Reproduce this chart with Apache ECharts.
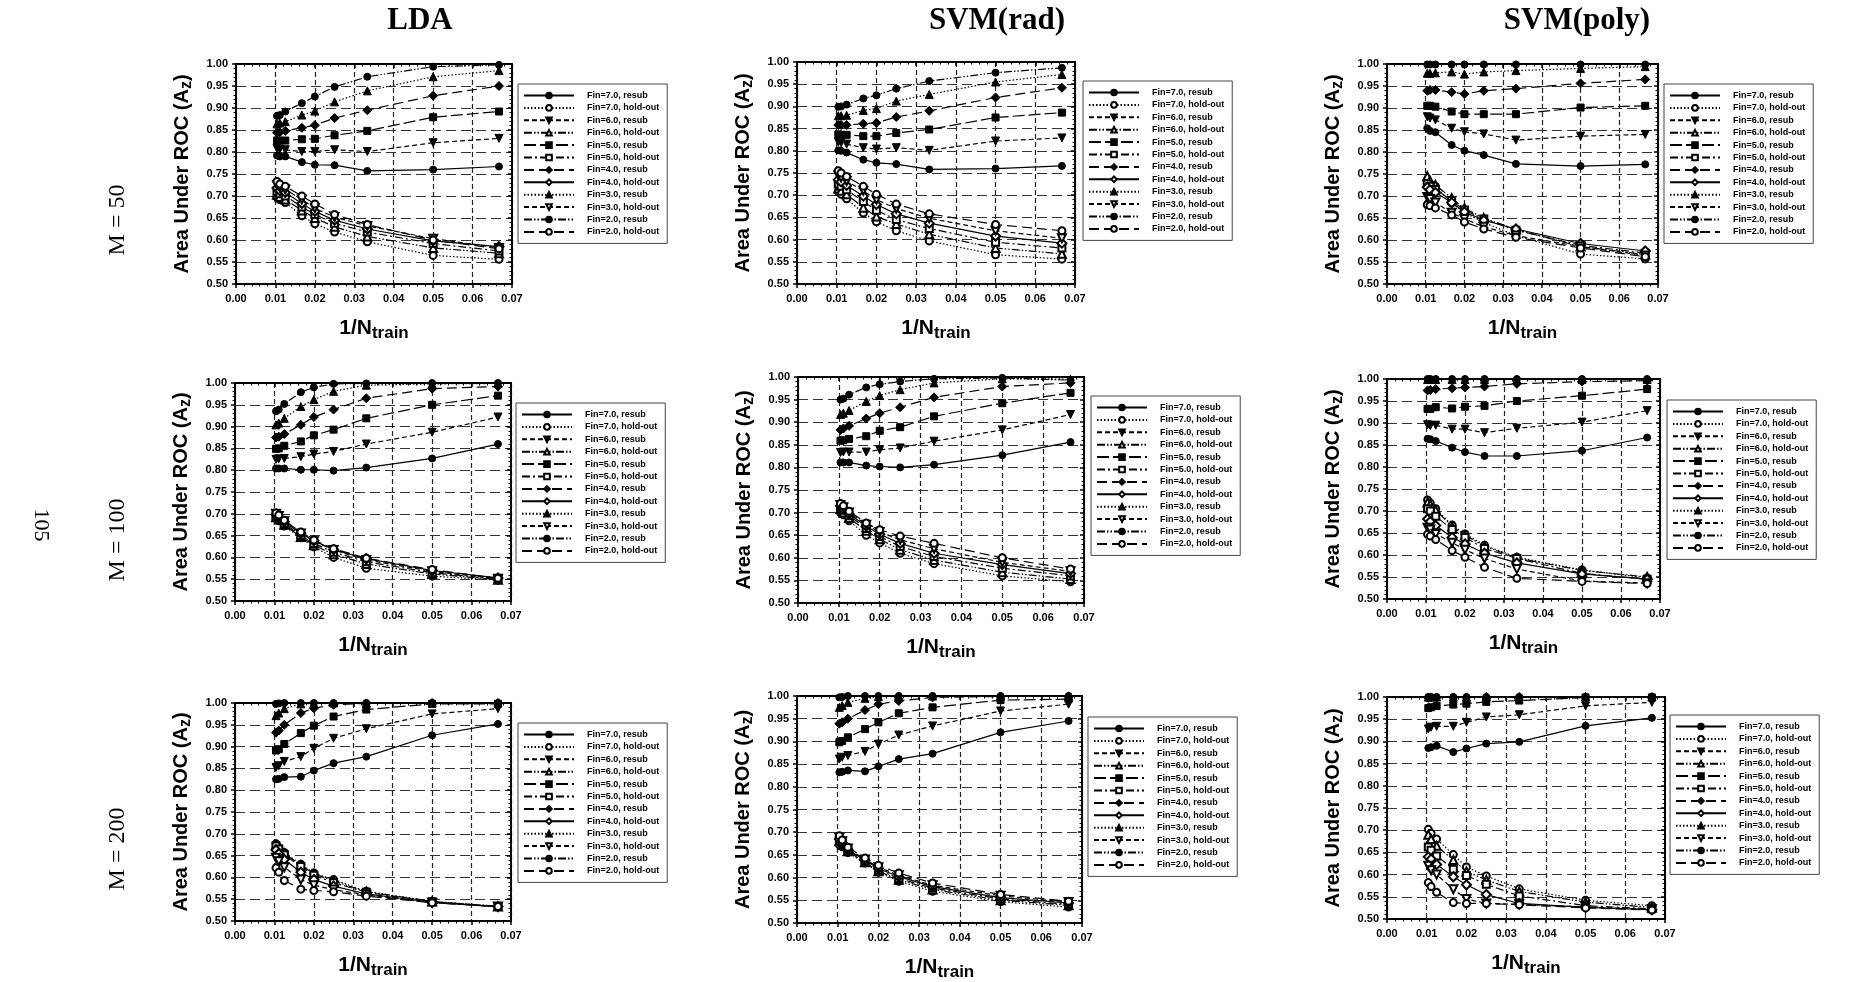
<!DOCTYPE html>
<html><head><meta charset="utf-8">
<script src="https://cdn.jsdelivr.net/npm/echarts@6/dist/echarts.min.js"></script>
<style>html,body{margin:0;padding:0;background:#fff}#c{width:1849px;height:982px}</style>
</head><body><div id="c"></div>
<script>
// ---------- DATA ----------
const xValues = [0.0104, 0.0111, 0.0125, 0.0167, 0.0200, 0.0250, 0.0333, 0.0500, 0.0667];
const finLevels = ['7.0', '6.0', '5.0', '4.0', '3.0', '2.0'];
const columnTitles = ['LDA', 'SVM(rad)', 'SVM(poly)'];
const rowTitles = ['M = 50', 'M = 100', 'M = 200'];
const pageNumber = '105';

// rows: Fin=7.0, 6.0, 5.0, 4.0, 3.0, 2.0
const lda50Resub = [
  [0.792,0.790,0.790,0.777,0.771,0.770,0.757,0.760,0.767],
  [0.808,0.806,0.805,0.801,0.801,0.805,0.801,0.821,0.831],
  [0.826,0.826,0.826,0.829,0.830,0.838,0.848,0.879,0.892],
  [0.844,0.845,0.848,0.855,0.861,0.877,0.895,0.928,0.950],
  [0.864,0.866,0.869,0.884,0.893,0.914,0.939,0.971,0.985],
  [0.882,0.884,0.892,0.911,0.926,0.948,0.971,0.994,0.998]];
const lda50Hold = [
  [0.697,0.692,0.685,0.655,0.637,0.618,0.596,0.565,0.556],
  [0.703,0.698,0.692,0.667,0.650,0.630,0.608,0.582,0.570],
  [0.710,0.705,0.700,0.675,0.658,0.638,0.618,0.592,0.575],
  [0.718,0.712,0.708,0.683,0.665,0.645,0.625,0.598,0.585],
  [0.725,0.720,0.715,0.692,0.672,0.652,0.632,0.603,0.582],
  [0.733,0.727,0.722,0.700,0.682,0.658,0.635,0.600,0.580]];

const rad50Resub = [
  [0.801,0.800,0.796,0.780,0.773,0.770,0.758,0.760,0.766],
  [0.820,0.818,0.815,0.807,0.804,0.807,0.801,0.822,0.829],
  [0.837,0.836,0.836,0.833,0.833,0.840,0.848,0.875,0.886],
  [0.858,0.858,0.858,0.861,0.863,0.876,0.890,0.920,0.942],
  [0.879,0.879,0.880,0.891,0.895,0.912,0.927,0.955,0.972],
  [0.899,0.900,0.904,0.918,0.925,0.940,0.957,0.976,0.987]];
const rad50Hold = [
  [0.708,0.702,0.692,0.660,0.640,0.620,0.597,0.566,0.556],
  [0.715,0.710,0.702,0.672,0.652,0.635,0.612,0.581,0.568],
  [0.725,0.720,0.712,0.686,0.666,0.645,0.625,0.594,0.581],
  [0.735,0.730,0.722,0.698,0.679,0.658,0.637,0.608,0.592],
  [0.745,0.740,0.732,0.710,0.690,0.670,0.648,0.620,0.603],
  [0.755,0.750,0.742,0.720,0.702,0.680,0.658,0.634,0.620]];

const poly50Resub = [
  [0.854,0.848,0.845,0.816,0.803,0.793,0.773,0.768,0.772],
  [0.880,0.877,0.873,0.854,0.846,0.841,0.827,0.836,0.840],
  [0.905,0.905,0.903,0.892,0.886,0.886,0.886,0.901,0.905],
  [0.939,0.941,0.941,0.936,0.932,0.939,0.944,0.956,0.965],
  [0.979,0.979,0.980,0.982,0.977,0.982,0.985,0.990,0.994],
  [0.999,0.999,0.999,0.999,0.999,0.999,0.999,0.999,0.999]];
const poly50Hold = [
  [0.735,0.728,0.722,0.684,0.662,0.640,0.610,0.568,0.557],
  [0.745,0.735,0.725,0.695,0.672,0.650,0.624,0.585,0.567],
  [0.728,0.722,0.715,0.690,0.668,0.648,0.622,0.588,0.570],
  [0.720,0.714,0.708,0.685,0.664,0.645,0.625,0.592,0.575],
  [0.698,0.693,0.685,0.662,0.648,0.630,0.610,0.585,0.565],
  [0.680,0.678,0.673,0.657,0.641,0.625,0.606,0.582,0.562]];

const lda100Resub = [
  [0.804,0.804,0.804,0.801,0.801,0.799,0.806,0.827,0.860],
  [0.825,0.826,0.827,0.831,0.837,0.843,0.860,0.887,0.922],
  [0.849,0.850,0.856,0.866,0.880,0.893,0.919,0.950,0.971],
  [0.875,0.877,0.883,0.904,0.922,0.939,0.965,0.987,0.992],
  [0.904,0.908,0.919,0.946,0.962,0.981,0.995,0.998,0.999],
  [0.935,0.939,0.952,0.979,0.990,0.998,0.999,1.000,1.000]];
const lda100Hold = [
  [0.690,0.684,0.672,0.645,0.624,0.600,0.575,0.557,0.548],
  [0.692,0.687,0.675,0.647,0.628,0.607,0.585,0.562,0.549],
  [0.695,0.690,0.678,0.650,0.632,0.612,0.590,0.565,0.550],
  [0.698,0.692,0.682,0.655,0.638,0.618,0.597,0.570,0.553],
  [0.700,0.695,0.683,0.655,0.637,0.617,0.594,0.568,0.551],
  [0.702,0.697,0.685,0.658,0.640,0.620,0.598,0.572,0.552]];

const rad100Resub = [
  [0.811,0.811,0.811,0.804,0.802,0.800,0.806,0.827,0.856],
  [0.833,0.834,0.834,0.834,0.839,0.843,0.858,0.883,0.917],
  [0.859,0.860,0.863,0.869,0.881,0.889,0.913,0.942,0.965],
  [0.883,0.886,0.892,0.908,0.920,0.933,0.955,0.979,0.987],
  [0.917,0.920,0.926,0.946,0.959,0.972,0.987,0.996,0.995],
  [0.950,0.952,0.961,0.977,0.984,0.990,0.996,0.998,0.993]];
const rad100Hold = [
  [0.700,0.695,0.682,0.650,0.633,0.610,0.587,0.560,0.547],
  [0.708,0.700,0.688,0.660,0.641,0.618,0.595,0.568,0.553],
  [0.712,0.705,0.693,0.665,0.647,0.625,0.603,0.577,0.560],
  [0.715,0.708,0.697,0.670,0.652,0.632,0.610,0.585,0.565],
  [0.717,0.712,0.700,0.673,0.657,0.640,0.620,0.590,0.570],
  [0.720,0.715,0.703,0.677,0.662,0.648,0.632,0.600,0.575]];

const poly100Resub = [
  [0.864,0.863,0.859,0.844,0.834,0.825,0.825,0.837,0.867],
  [0.896,0.894,0.895,0.886,0.886,0.878,0.888,0.902,0.928],
  [0.932,0.932,0.936,0.933,0.937,0.939,0.950,0.962,0.977],
  [0.974,0.975,0.977,0.979,0.981,0.983,0.989,0.994,0.996],
  [0.999,0.999,0.999,0.999,0.999,0.999,0.999,0.999,0.999],
  [1.000,1.000,1.000,1.000,1.000,1.000,1.000,1.000,1.000]];
const poly100Hold = [
  [0.725,0.718,0.705,0.668,0.648,0.622,0.595,0.566,0.548],
  [0.720,0.715,0.702,0.665,0.645,0.620,0.593,0.565,0.550],
  [0.705,0.700,0.688,0.658,0.640,0.615,0.592,0.558,0.545],
  [0.682,0.676,0.667,0.640,0.625,0.604,0.582,0.557,0.545],
  [0.662,0.658,0.648,0.628,0.612,0.592,0.568,0.541,0.536],
  [0.647,0.643,0.635,0.610,0.595,0.572,0.547,0.540,0.535]];

const lda200Resub = [
  [0.825,0.826,0.830,0.831,0.845,0.862,0.877,0.926,0.952],
  [0.852,0.856,0.866,0.877,0.896,0.919,0.941,0.975,0.987],
  [0.891,0.894,0.906,0.931,0.948,0.969,0.985,0.998,0.998],
  [0.932,0.937,0.950,0.977,0.988,0.996,0.999,1.000,1.000],
  [0.971,0.977,0.987,0.998,0.999,1.000,1.000,1.000,1.000],
  [0.998,0.999,1.000,1.000,1.000,1.000,1.000,1.000,1.000]];
const lda200Hold = [
  [0.677,0.668,0.657,0.630,0.610,0.595,0.568,0.545,0.534],
  [0.675,0.667,0.655,0.628,0.608,0.592,0.567,0.545,0.533],
  [0.672,0.665,0.652,0.625,0.605,0.588,0.566,0.544,0.533],
  [0.663,0.655,0.641,0.612,0.595,0.580,0.562,0.543,0.533],
  [0.645,0.637,0.623,0.595,0.582,0.572,0.560,0.542,0.533],
  [0.622,0.612,0.593,0.573,0.570,0.567,0.557,0.542,0.533]];

const rad200Resub = [
  [0.832,0.833,0.836,0.834,0.845,0.861,0.873,0.920,0.945],
  [0.861,0.865,0.869,0.878,0.894,0.914,0.934,0.967,0.982],
  [0.898,0.901,0.909,0.927,0.942,0.962,0.975,0.991,0.993],
  [0.939,0.942,0.950,0.969,0.982,0.989,0.997,0.999,0.999],
  [0.975,0.979,0.986,0.995,0.999,1.000,1.000,1.000,1.000],
  [0.997,0.998,1.000,1.000,1.000,1.000,1.000,1.000,1.000]];
const rad200Hold = [
  [0.673,0.668,0.655,0.632,0.612,0.592,0.570,0.547,0.535],
  [0.680,0.672,0.658,0.634,0.614,0.595,0.574,0.550,0.539],
  [0.683,0.675,0.660,0.636,0.617,0.598,0.577,0.553,0.541],
  [0.685,0.677,0.662,0.638,0.620,0.602,0.580,0.556,0.544],
  [0.688,0.680,0.664,0.640,0.623,0.605,0.583,0.560,0.546],
  [0.692,0.683,0.667,0.643,0.627,0.610,0.588,0.563,0.548]];

const poly200Resub = [
  [0.885,0.887,0.890,0.876,0.884,0.895,0.899,0.935,0.953],
  [0.928,0.932,0.934,0.934,0.943,0.955,0.960,0.980,0.988],
  [0.975,0.977,0.980,0.983,0.985,0.989,0.992,0.999,0.999],
  [0.998,0.999,0.999,0.999,0.999,1.000,1.000,1.000,1.000],
  [1.000,1.000,1.000,1.000,1.000,1.000,1.000,1.000,1.000],
  [1.000,1.000,1.000,1.000,1.000,1.000,1.000,1.000,1.000]];
const poly200Hold = [
  [0.702,0.693,0.680,0.645,0.617,0.597,0.568,0.542,0.530],
  [0.690,0.680,0.665,0.633,0.607,0.588,0.562,0.538,0.526],
  [0.662,0.655,0.642,0.612,0.598,0.578,0.552,0.530,0.523],
  [0.640,0.635,0.623,0.595,0.577,0.555,0.535,0.526,0.521],
  [0.620,0.610,0.600,0.567,0.545,0.535,0.533,0.527,0.522],
  [0.582,0.573,0.560,0.537,0.535,0.535,0.532,0.525,0.520]];

// ---------- LAYOUT / STYLE ----------
const panels = [
  [lda50Resub, lda50Hold], [rad50Resub, rad50Hold], [poly50Resub, poly50Hold],
  [lda100Resub, lda100Hold], [rad100Resub, rad100Hold], [poly100Resub, poly100Hold],
  [lda200Resub, lda200Hold], [rad200Resub, rad200Hold], [poly200Resub, poly200Hold]];
const gridBoxes = [[236,64,276,220],[797,62,278,222],[1387,64,271,220],
                   [235,383,276,218],[798,377,286,226],[1387,379,273,220],
                   [235,703,276,218],[797,696,285,228],[1387,697,278,222]];
const legendPos = [[518,84],[1083,81],[1664,84],[516,403],[1091,396],[1667,400],[518,723],[1088,717],[1670,715]];

const DDOT = [8,2,1.5,2,1.5,2];
const resubStyle = [
  {symbol:'circle', size:7, rot:0, dash:'solid'},
  {symbol:'triangle', size:8, rot:180, dash:[5,3]},
  {symbol:'rect', size:7, rot:0, dash:[12,4]},
  {symbol:'diamond', size:9, rot:0, dash:[10,5]},
  {symbol:'triangle', size:8, rot:0, dash:[1.5,2]},
  {symbol:'circle', size:7, rot:0, dash:DDOT}];
const holdStyle = [
  {symbol:'emptyCircle', size:7, rot:0, dash:[1.5,2]},
  {symbol:'emptyTriangle', size:8, rot:0, dash:DDOT},
  {symbol:'emptyRect', size:7, rot:0, dash:[8,3,2,3]},
  {symbol:'emptyDiamond', size:9, rot:0, dash:'solid'},
  {symbol:'emptyTriangle', size:8, rot:180, dash:[5,3]},
  {symbol:'emptyCircle', size:7, rot:0, dash:[10,5]}];

const names = [];
finLevels.forEach(f => { names.push('Fin=' + f + ', resub'); names.push('Fin=' + f + ', hold-out'); });

const SANS = 'Liberation Sans, Arial, sans-serif';
const SERIF = 'Liberation Serif, Times New Roman, serif';

const grids = [], xAxes = [], yAxes = [], series = [], legends = [];
gridBoxes.forEach((b, p) => {
  grids.push({left:b[0], top:b[1], width:b[2], height:b[3], show:false, containLabel:false});
  const tick = {show:true, inside:false, length:4, lineStyle:{color:'#000', width:1.5}};
  const minor = {show:true, splitNumber:5, length:2.5, lineStyle:{color:'#000', width:1}};
  xAxes.push({
    type:'value', gridIndex:p, min:0, max:0.07, interval:0.01, position:'bottom',
    axisLine:{show:true, onZero:false, lineStyle:{color:'#000', width:2}},
    axisTick:tick, minorTick:minor,
    axisLabel:{show:true, margin:9, color:'#000', fontFamily:SANS, fontWeight:'bold', fontSize:11,
               formatter: v => v.toFixed(2)},
    splitLine:{show:true, lineStyle:{color:'#222', width:1.2, type:[5,3]}},
    minorSplitLine:{show:false},
    name:'{m|1/N}{s|train}', nameLocation:'middle', nameGap:30,
    nameTextStyle:{rich:{
      m:{fontFamily:SANS, fontWeight:'bold', fontSize:21, color:'#000', lineHeight:28},
      s:{fontFamily:SANS, fontWeight:'bold', fontSize:17, color:'#000', lineHeight:19, verticalAlign:'bottom'}}}
  });
  xAxes.push({
    type:'value', gridIndex:p, min:0, max:0.07, interval:0.01, position:'top',
    axisLine:{show:true, onZero:false, lineStyle:{color:'#000', width:2}},
    axisTick:{show:true, inside:true, length:4, lineStyle:{color:'#000', width:1.5}}, minorTick:minor,
    axisLabel:{show:false}, splitLine:{show:false}
  });
  yAxes.push({
    type:'value', gridIndex:p, min:0.5, max:1.0, interval:0.05, position:'left',
    axisLine:{show:true, onZero:false, lineStyle:{color:'#000', width:2}},
    axisTick:tick, minorTick:minor,
    axisLabel:{show:true, margin:8, color:'#000', fontFamily:SANS, fontWeight:'bold', fontSize:11,
               formatter: v => v.toFixed(2)},
    splitLine:{show:true, lineStyle:{color:'#333', width:1.2, type:[10,5]}},
    minorSplitLine:{show:false},
    name:'{m|Area Under ROC (A}{s|z}{m|)}', nameLocation:'middle', nameGap:41, nameRotate:90,
    nameTextStyle:{rich:{
      m:{fontFamily:SANS, fontWeight:'bold', fontSize:20, color:'#000', lineHeight:25},
      s:{fontFamily:SANS, fontWeight:'bold', fontSize:16, color:'#000', lineHeight:18, verticalAlign:'bottom'}}}
  });
  yAxes.push({
    type:'value', gridIndex:p, min:0.5, max:1.0, interval:0.05, position:'right',
    axisLine:{show:true, onZero:false, lineStyle:{color:'#000', width:2}},
    axisTick:{show:true, inside:true, length:4, lineStyle:{color:'#000', width:1.5}}, minorTick:minor,
    axisLabel:{show:false}, splitLine:{show:false}
  });

  const [res, hold] = panels[p];
  finLevels.forEach((f, k) => {
    [[res[k], resubStyle[k], names[2*k]], [hold[k], holdStyle[k], names[2*k+1]]].forEach(([vals, st, nm]) => {
      series.push({
        type:'line', name:nm, xAxisIndex:2*p, yAxisIndex:2*p,
        data: xValues.map((x, i) => [x, vals[i]]),
        symbol:st.symbol, symbolSize:st.size, symbolRotate:st.rot, showSymbol:true,
        lineStyle:{color:'#000', width:1.2, type:st.dash},
        itemStyle:{color:'#000', borderColor:'#000', borderWidth:1},
        emphasis:{disabled:true}, animation:false, silent:true, clip:false
      });
    });
  });

  legends.push({
    show:true, left:legendPos[p][0], top:legendPos[p][1], orient:'vertical',
    data:names, itemWidth:50, itemHeight:7, itemGap:3.4, padding:[7,8,7,5],
    borderColor:'#444', borderWidth:1, backgroundColor:'#fff', selectedMode:false,
    textStyle:{fontFamily:SANS, fontWeight:'bold', fontSize:9, color:'#000', padding:[0,0,0,8]}
  });
});

const graphics = [];
const colX = [420, 997, 1577];
columnTitles.forEach((t, i) => graphics.push({type:'text', x:colX[i], y:21,
  style:{text:t, font:'bold 31px ' + SERIF, fill:'#000', textAlign:'center', textVerticalAlign:'middle', align:'center', verticalAlign:'middle'}}));
const rowY = [220, 540, 849];
rowTitles.forEach((t, i) => graphics.push({type:'text', x:118, y:rowY[i], rotation:Math.PI/2,
  style:{text:t, font:'24px ' + SERIF, fill:'#000', textAlign:'center', textVerticalAlign:'middle', align:'center', verticalAlign:'middle'}}));
graphics.push({type:'text', x:41, y:525, rotation:-Math.PI/2,
  style:{text:pageNumber, font:'22px ' + SERIF, fill:'#000', textAlign:'center', textVerticalAlign:'middle', align:'center', verticalAlign:'middle'}});

const chart = echarts.init(document.getElementById('c'), null, {renderer:'canvas'});
chart.setOption({
  backgroundColor:'#fff', animation:false,
  grid:grids, xAxis:xAxes, yAxis:yAxes, series:series, legend:legends, graphic:graphics
});
</script></body></html>
